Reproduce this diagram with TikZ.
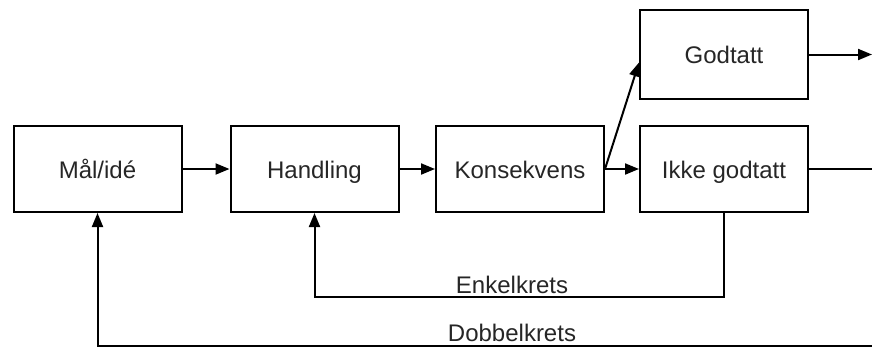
\documentclass[tikz,border=0pt]{standalone}
\usepackage{fontspec}
\setmainfont{Liberation Sans}
\usetikzlibrary{arrows.meta}
\begin{document}
\begin{tikzpicture}[x=1pt,y=-1pt,
  box/.style={draw, line width=2pt, minimum height=86pt, minimum width=168pt, inner sep=0pt,
    font=\fontsize{24}{28}\selectfont, text=black!85, text height=21pt, text depth=3pt},
  lbl/.style={font=\fontsize{24}{28}\selectfont, text=black!85, inner sep=0pt, text height=17pt, text depth=5pt},
  conn/.style={line width=2pt},
  arr/.style={conn, -{Triangle[length=14pt,width=11pt]}}]
\useasboundingbox (0,0) rectangle (872,349);
\node[box] (mal) at (97.5,169) {Mål/idé};
\node[box] (handling) at (314.5,169) {Handling};
\node[box] (kons) at (520,169) {Konsekvens};
\node[box] (ikke) at (724,169) {Ikke godtatt};
\node[box, minimum height=89pt] (god) at (724,54.5) {Godtatt};
\coordinate (gEnd) at (872,54.5);
\coordinate (iEnd) at (872,169);
\coordinate (eC) at (724,297);
\coordinate (dR) at (872,346);
\draw[arr] (mal) -- (handling);
\draw[arr] (handling) -- (kons);
\draw[arr] (kons) -- (ikke);
\draw[arr] (kons.east) -- ([yshift=-8pt]god.west);
\draw[arr] (god) -- (gEnd);
\draw[conn] (ikke) -- (iEnd);
\draw[arr] (ikke.south) -- (eC) -| (handling.south);
\draw[arr] (dR) -| (mal.south);
\node[lbl] (enkel) at (512,287) {Enkelkrets};
\node[lbl] (dobbel) at (512,335) {Dobbelkrets};
\end{tikzpicture}
\end{document}
